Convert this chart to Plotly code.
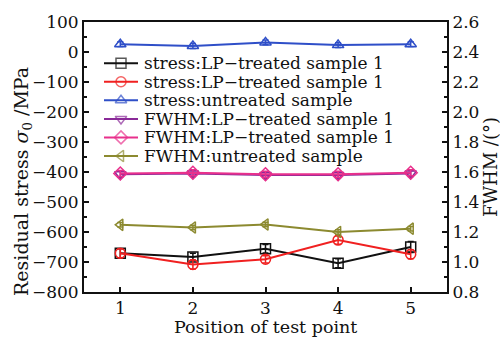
import plotly.graph_objects as go

positions = [1, 2, 3, 4, 5]

stress_lp1 = [-671, -683, -656, -704, -650]
stress_lp1_err = [15, 12, 14, 15, 18]
stress_lp2 = [-671, -708, -691, -627, -674]
stress_lp2_err = [15, 15, 12, 14, 15]
stress_untreated = [26, 20, 32, 23, 26]
stress_untreated_err = [8, 8, 8, 8, 8]

fwhm_lp1 = [1.585, 1.59, 1.58, 1.58, 1.59]
fwhm_lp1_err = [0.02, 0.02, 0.02, 0.02, 0.02]
fwhm_lp2 = [1.59, 1.595, 1.585, 1.585, 1.595]
fwhm_lp2_err = [0.02, 0.02, 0.02, 0.02, 0.02]
fwhm_untreated = [1.248, 1.23, 1.25, 1.2, 1.222]
fwhm_untreated_err = [0.015, 0.015, 0.015, 0.015, 0.015]

names = [
    "stress:LP\u2212treated sample 1",
    "stress:LP\u2212treated sample 1",
    "stress:untreated sample",
    "FWHM:LP\u2212treated sample 1",
    "FWHM:LP\u2212treated sample 1",
    "FWHM:untreated sample",
]
colors = ["#111111", "#f02020", "#2f4fc8", "#8a2a98", "#e8308c", "#8c8a30"]
symbols = ["square-open", "circle-open", "triangle-up-open",
           "triangle-down-open", "diamond-open", "triangle-left-open"]

series = [
    (stress_lp1, stress_lp1_err, "y"),
    (stress_lp2, stress_lp2_err, "y"),
    (stress_untreated, stress_untreated_err, "y"),
    (fwhm_lp1, fwhm_lp1_err, "y2"),
    (fwhm_lp2, fwhm_lp2_err, "y2"),
    (fwhm_untreated, fwhm_untreated_err, "y2"),
]

FONT = "DejaVu Serif"
INK = "#111111"

# plot area in pixels
L, R, T, B = 84, 447, 22, 292
W, H = 500, 337


def px_x(px):
    return (px - L) / (R - L)


def px_y(py):
    return 1 - (py - T) / (B - T)


fig = go.Figure()
for (vals, errs, ax), name, col, sym in zip(series, names, colors, symbols):
    fig.add_trace(go.Scatter(
        x=positions, y=vals, name=name, yaxis=ax, showlegend=False,
        mode="lines+markers",
        line=dict(color=col, width=2),
        marker=dict(symbol=sym, size=10, color=col, line=dict(width=1.5, color=col)),
        error_y=dict(type="data", array=errs, visible=True, color=col,
                     thickness=1.5, width=3),
    ))

# legend (drawn in paper-like overlay axes)
legend_rows = [63.3, 81.8, 100.3, 118.9, 137.4, 156.0]
annotations = []
for row, name, col, sym in zip(legend_rows, names, colors, symbols):
    yy = px_y(row)
    fig.add_trace(go.Scatter(
        x=[px_x(104), px_x(121), px_x(138)], y=[yy, yy, yy],
        xaxis="x2", yaxis="y3", mode="lines+markers", showlegend=False,
        hoverinfo="skip",
        line=dict(color=col, width=2),
        marker=dict(symbol=sym, size=[0, 10, 0], color=col,
                    line=dict(width=1.5, color=col)),
    ))
    annotations.append(dict(
        text=name, xref="paper", yref="paper", x=px_x(142), y=yy,
        xanchor="left", yanchor="middle", showarrow=False,
        font=dict(family=FONT, size=17, color=INK)))

annotations += [
    dict(text="Residual stress <i>\u03c3</i><sub>0</sub> /MPa", textangle=-90,
         xref="paper", yref="paper", x=px_x(22), y=px_y(182),
         xanchor="center", yanchor="middle", showarrow=False,
         font=dict(family=FONT, size=19, color=INK)),
    dict(text="FWHM /(\u00b0)", textangle=-90,
         xref="paper", yref="paper", x=px_x(490), y=px_y(167),
         xanchor="center", yanchor="middle", showarrow=False,
         font=dict(family=FONT, size=18, color=INK)),
    dict(text="Position of test point",
         xref="paper", yref="paper", x=px_x(265), y=px_y(327),
         xanchor="center", yanchor="middle", showarrow=False,
         font=dict(family=FONT, size=17.5, color=INK)),
]

fig.update_layout(
    width=W, height=H,
    margin=dict(l=L, r=W - R, t=T, b=H - B),
    paper_bgcolor="white", plot_bgcolor="white",
    font=dict(family=FONT, size=17, color=INK),
    showlegend=False,
    xaxis=dict(range=[0.5, 5.5], tickvals=positions, ticks="inside",
               ticklen=5, tickwidth=1.5, tickcolor=INK,
               showline=True, linewidth=2, linecolor=INK, mirror=True,
               showgrid=False, zeroline=False,
               tickfont=dict(family=FONT, size=17)),
    xaxis2=dict(range=[0, 1], overlaying="x", visible=False),
    yaxis=dict(range=[-800, 100], dtick=100, ticks="inside",
               ticklen=5, tickwidth=1.5, tickcolor=INK,
               minor=dict(ticks="inside", ticklen=3, dtick=50, tickcolor=INK),
               showline=True, linewidth=2, linecolor=INK,
               showgrid=False, zeroline=False,
               tickfont=dict(family=FONT, size=17)),
    yaxis2=dict(range=[0.8, 2.6], dtick=0.2, tickformat=".1f",
                overlaying="y", side="right", ticks="inside",
                ticklen=5, tickwidth=1.5, tickcolor=INK,
                minor=dict(ticks="inside", ticklen=3, dtick=0.1, tickcolor=INK),
                showline=True, linewidth=2, linecolor=INK,
                showgrid=False, zeroline=False,
                tickfont=dict(family=FONT, size=17)),
    yaxis3=dict(range=[0, 1], overlaying="y", visible=False),
    annotations=annotations,
)

fig.write_html("out.html",
               config={"displayModeBar": False},
               post_script="document.body.style.margin='0';"
                           "document.body.style.padding='0';")
